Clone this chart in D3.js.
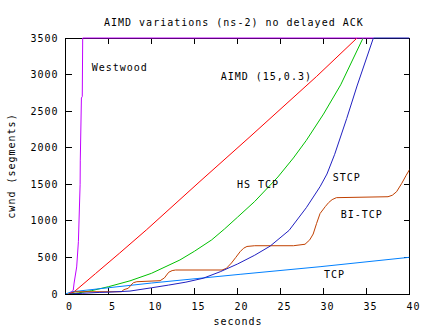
<!DOCTYPE html>
<html><head><meta charset="utf-8">
<script src="https://cdn.jsdelivr.net/npm/d3@7/dist/d3.min.js"></script>
<style>
html,body{margin:0;padding:0;background:#fff;}
svg{display:block;}
text{font-family:"DejaVu Sans Mono","Liberation Mono",monospace;font-size:10px;letter-spacing:1px;fill:#000;}
</style></head>
<body>
<script>
const title = "AIMD variations (ns-2) no delayed ACK";
const xLabel = "seconds";
const yLabel = "cwnd (segments)";
const xTicks = [0,5,10,15,20,25,30,35,40];
const yTicks = [0,500,1000,1500,2000,2500,3000,3500];

// [seconds, cwnd]
const aimd = [[0.5,0],[1.1,40],[3.5,280],[6.3,560],[9.44,880],[15.64,1540],[21.45,2150],[29.2,2975],[33.9,3500]];
const hstcp = [[0.5,0],[1.5,15],[3,45],[5,100],[7.5,180],[10,283],[13.3,465],[15,585],[17,740],[18.5,890],[20,1050],[22,1265],[24.7,1600],[26.5,1860],[28,2100],[30,2460],[32,2860],[34.6,3500]];
const stcp = [[0.5,0],[2,10],[4,22],[5,25],[7.5,40],[10,85],[12,122],[14,162],[16,215],[18,305],[20,410],[22,530],[23.8,655],[26,870],[28,1180],[29.6,1467],[30.4,1640],[31.3,1910],[32.7,2400],[33.9,2844],[35.8,3500],[40,3500]];
const bitcp = [[0.3,0],[0.8,20],[1.2,31],[6.5,31],[6.8,60],[7.3,78],[7.6,120],[7.9,155],[8.3,168],[11.0,182],[11.5,220],[12.0,297],[12.4,320],[12.8,328],[18.2,328],[18.7,350],[19.3,424],[19.8,500],[20.3,578],[20.7,625],[21.1,650],[22,660],[26.5,660],[27.85,680],[28.4,740],[28.8,820],[29.2,966],[29.6,1100],[30.2,1194],[30.6,1250],[31.0,1290],[31.5,1317],[37.5,1330],[38.0,1350],[38.5,1399],[39.1,1513],[39.6,1620],[40,1700]];
const tcp = [[0,0],[0.7,30],[10,150],[20.3,269],[29.6,373],[40,502]];
const westwood = [[0.4,0],[0.9,50],[1.0,150],[1.3,370],[1.5,715],[1.7,1500],[1.72,1830],[1.85,2680],[1.95,2700],[2.0,3500],[35.8,3500]];

const series = [
  {name:"AIMD (15,0.3)", data:aimd, color:"#ff0000", lx:220.7, ly:79.5},
  {name:"HS TCP", data:hstcp, color:"#00c000", lx:237, ly:188.3},
  {name:"TCP", data:tcp, color:"#0080ff", lx:324, ly:278},
  {name:"Westwood", data:westwood, color:"#c000ff", lx:91.7, ly:71},
  {name:"BI-TCP", data:bitcp, color:"#c04000", lx:340.7, ly:218.3},
  {name:"STCP", data:stcp, color:"#2020c0", lx:332.7, ly:180.6}
];

const W=432,H=328;
const L=65.5,R=409.5,T=38,B=294;
const svg=d3.select("body").append("svg").attr("width",W).attr("height",H);
const x=d3.scaleLinear().domain([0,40]).range([L,R]);
const y=d3.scaleLinear().domain([0,3500]).range([B,T]);

svg.append("defs").append("clipPath").attr("id","clip")
  .append("rect").attr("x",L).attr("y",T-1).attr("width",R-L).attr("height",B-T+1);

// frame
svg.append("rect").attr("x",L).attr("y",T).attr("width",R-L).attr("height",B-T)
  .attr("fill","none").attr("stroke","#000").attr("stroke-width",1).attr("shape-rendering","crispEdges");

const tk=6;
const gt=svg.append("g").attr("stroke","#000").attr("shape-rendering","crispEdges");
xTicks.forEach(v=>{
  gt.append("line").attr("x1",x(v)).attr("x2",x(v)).attr("y1",B).attr("y2",B-tk);
  gt.append("line").attr("x1",x(v)).attr("x2",x(v)).attr("y1",T).attr("y2",T+tk);
});
yTicks.forEach(v=>{
  gt.append("line").attr("x1",L).attr("x2",L+tk).attr("y1",y(v)).attr("y2",y(v));
  gt.append("line").attr("x1",R).attr("x2",R-tk).attr("y1",y(v)).attr("y2",y(v));
});

svg.selectAll(".xl").data(xTicks).enter().append("text")
  .attr("x",d=>x(d)+4).attr("y",310).attr("text-anchor","middle").text(d=>d);
svg.selectAll(".yl").data(yTicks).enter().append("text")
  .attr("x",58.5).attr("y",d=>y(d)+3.6).attr("text-anchor","end").text(d=>d);

svg.append("text").attr("x",104).attr("y",25.5).text(title);
svg.append("text").attr("x",238).attr("y",324.5).attr("text-anchor","middle").text(xLabel);
svg.append("text").attr("transform","translate(14.5,166) rotate(-90)").attr("text-anchor","middle").text(yLabel);

const line=d3.line().x(d=>x(d[0])).y(d=>y(d[1]));
const gl=svg.append("g").attr("clip-path","url(#clip)");
series.forEach(s=>{
  gl.append("path").attr("d",line(s.data)).attr("fill","none")
    .attr("stroke",s.color).attr("stroke-width",1);
});
series.forEach(s=>{
  svg.append("text").attr("x",s.lx).attr("y",s.ly).text(s.name);
});
</script>
</body></html>
